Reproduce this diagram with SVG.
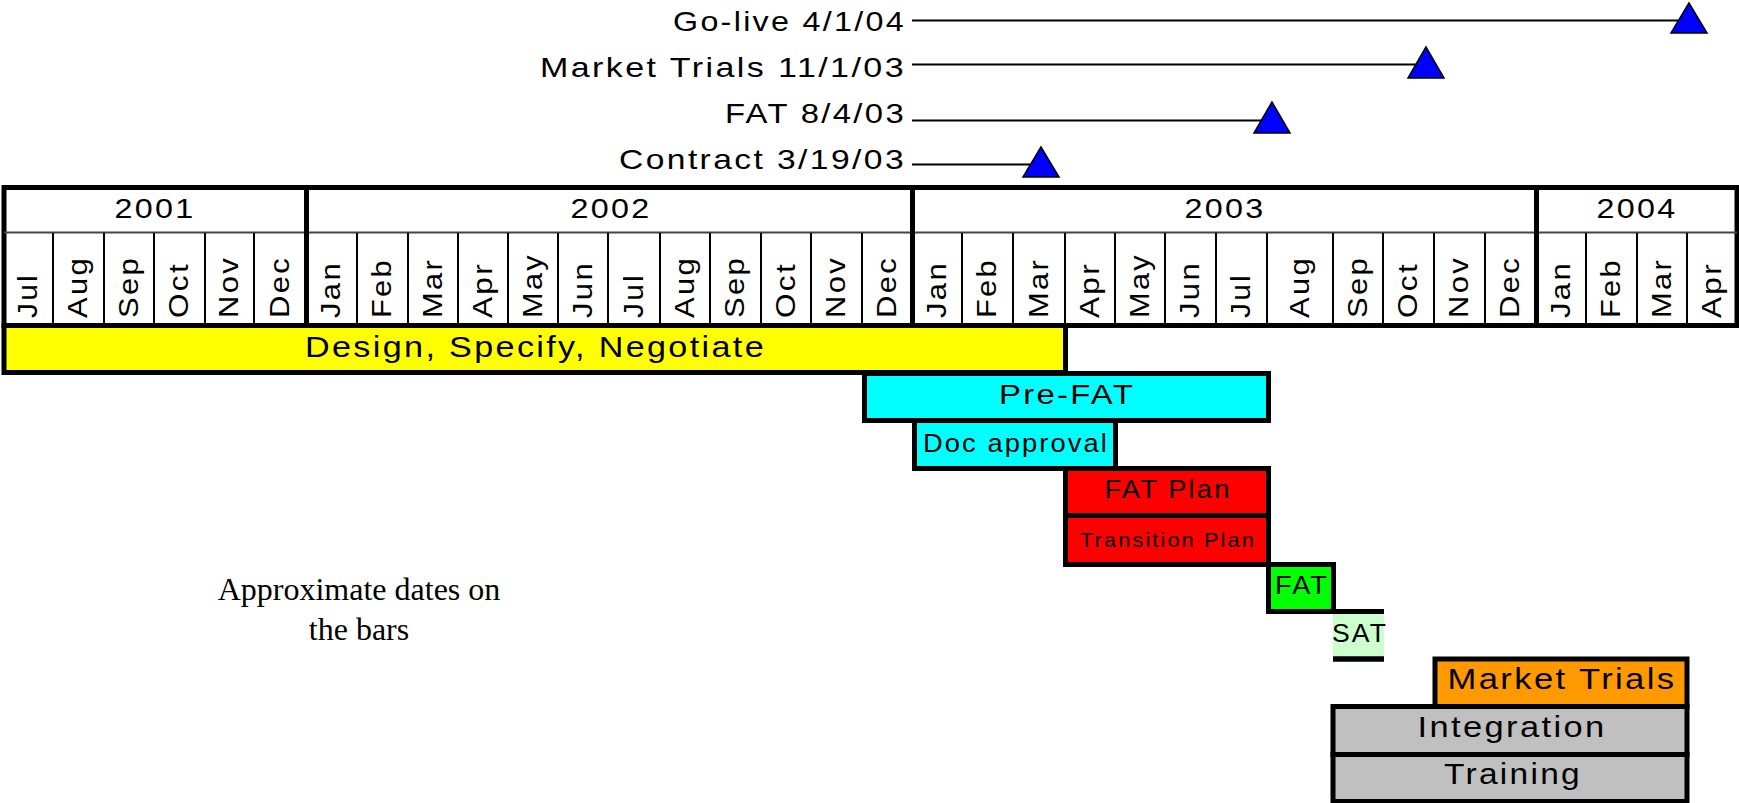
<svg xmlns="http://www.w3.org/2000/svg" width="1739" height="803" viewBox="0 0 1739 803">
<style>
text{font-family:"Liberation Sans",Arial,sans-serif;fill:#000;letter-spacing:2px}
.bar{stroke:#000;stroke-width:5}
.mon{font-size:27px;letter-spacing:3px}
.yr{font-size:28px;text-anchor:middle}
.ms{font-size:28px;text-anchor:end}
.bt{text-anchor:middle}
.tri{fill:#0000ff;stroke:#000;stroke-width:1.5;stroke-linejoin:miter}
.conn{stroke:#000;stroke-width:2.2;fill:none}
.div{stroke:#000;stroke-width:2}
.ydiv{stroke:#000;stroke-width:5}
.note{font-family:"Liberation Serif","Times New Roman",serif;font-size:32px;text-anchor:middle;letter-spacing:0}
</style>
<rect width="1739" height="803" fill="#fff"/>

<g id="connectors">
<line class="conn" x1="912" y1="20.5" x2="1689" y2="20.5"/>
<line class="conn" x1="912" y1="64.5" x2="1426" y2="64.5"/>
<line class="conn" x1="912" y1="120.5" x2="1272" y2="120.5"/>
<line class="conn" x1="912" y1="164.5" x2="1041" y2="164.5"/>
</g>

<g id="milestone-golive">
<text class="ms" x="906" y="31" textLength="233" lengthAdjust="spacingAndGlyphs">Go-live 4/1/04</text>
<polygon class="tri" points="1689,3 1671,33 1707,33"/>
</g>
<g id="milestone-market">
<text class="ms" x="906" y="77" textLength="366" lengthAdjust="spacingAndGlyphs">Market Trials 11/1/03</text>
<polygon class="tri" points="1426,47 1408,78 1444,78"/>
</g>
<g id="milestone-fat">
<text class="ms" x="906" y="123" textLength="181" lengthAdjust="spacingAndGlyphs">FAT 8/4/03</text>
<polygon class="tri" points="1272,102 1254,133 1290,133"/>
</g>
<g id="milestone-contract">
<text class="ms" x="906" y="169" textLength="287" lengthAdjust="spacingAndGlyphs">Contract 3/19/03</text>
<polygon class="tri" points="1041,147 1023,177 1059,177"/>
</g>

<g id="timeline-header">
<rect x="4" y="187.5" width="1733" height="138" fill="#fff" stroke="#000" stroke-width="5"/>
<line x1="4" y1="232.5" x2="1737" y2="232.5" stroke="#444" stroke-width="1.8"/>
<g class="div">
<line x1="53" y1="233" x2="53" y2="324"/><line x1="104" y1="233" x2="104" y2="324"/><line x1="154" y1="233" x2="154" y2="324"/><line x1="205" y1="233" x2="205" y2="324"/><line x1="254" y1="233" x2="254" y2="324"/>
<line x1="357" y1="233" x2="357" y2="324"/><line x1="408" y1="233" x2="408" y2="324"/><line x1="458" y1="233" x2="458" y2="324"/><line x1="508" y1="233" x2="508" y2="324"/><line x1="558" y1="233" x2="558" y2="324"/><line x1="608" y1="233" x2="608" y2="324"/><line x1="660" y1="233" x2="660" y2="324"/><line x1="710" y1="233" x2="710" y2="324"/><line x1="761" y1="233" x2="761" y2="324"/><line x1="811" y1="233" x2="811" y2="324"/><line x1="862" y1="233" x2="862" y2="324"/>
<line x1="962" y1="233" x2="962" y2="324"/><line x1="1013" y1="233" x2="1013" y2="324"/><line x1="1065" y1="233" x2="1065" y2="324"/><line x1="1115" y1="233" x2="1115" y2="324"/><line x1="1165" y1="233" x2="1165" y2="324"/><line x1="1216" y1="233" x2="1216" y2="324"/><line x1="1267" y1="233" x2="1267" y2="324"/><line x1="1333" y1="233" x2="1333" y2="324"/><line x1="1383" y1="233" x2="1383" y2="324"/><line x1="1434" y1="233" x2="1434" y2="324"/><line x1="1485" y1="233" x2="1485" y2="324"/>
<line x1="1586" y1="233" x2="1586" y2="324"/><line x1="1637" y1="233" x2="1637" y2="324"/><line x1="1687" y1="233" x2="1687" y2="324"/>
</g>
<line class="ydiv" x1="306.5" y1="188" x2="306.5" y2="325"/>
<line class="ydiv" x1="912.5" y1="188" x2="912.5" y2="325"/>
<line class="ydiv" x1="1536.5" y1="188" x2="1536.5" y2="325"/>
<text class="yr" x="155" y="218" textLength="81" lengthAdjust="spacingAndGlyphs">2001</text>
<text class="yr" x="611" y="218" textLength="81" lengthAdjust="spacingAndGlyphs">2002</text>
<text class="yr" x="1225" y="218" textLength="81" lengthAdjust="spacingAndGlyphs">2003</text>
<text class="yr" x="1637" y="218" textLength="81" lengthAdjust="spacingAndGlyphs">2004</text>
<g class="mon">
<text transform="translate(37,318) rotate(-90)" textLength="45" lengthAdjust="spacingAndGlyphs">Jul</text>
<text transform="translate(87,318) rotate(-90)" textLength="62" lengthAdjust="spacingAndGlyphs">Aug</text>
<text transform="translate(137.5,318) rotate(-90)" textLength="62" lengthAdjust="spacingAndGlyphs">Sep</text>
<text transform="translate(188,318) rotate(-90)" textLength="56" lengthAdjust="spacingAndGlyphs">Oct</text>
<text transform="translate(238,318) rotate(-90)" textLength="62" lengthAdjust="spacingAndGlyphs">Nov</text>
<text transform="translate(288.5,318) rotate(-90)" textLength="62" lengthAdjust="spacingAndGlyphs">Dec</text>
<text transform="translate(340,318) rotate(-90)" textLength="57" lengthAdjust="spacingAndGlyphs">Jan</text>
<text transform="translate(391,318) rotate(-90)" textLength="60" lengthAdjust="spacingAndGlyphs">Feb</text>
<text transform="translate(441.5,318) rotate(-90)" textLength="60" lengthAdjust="spacingAndGlyphs">Mar</text>
<text transform="translate(491.5,318) rotate(-90)" textLength="56" lengthAdjust="spacingAndGlyphs">Apr</text>
<text transform="translate(541.5,318) rotate(-90)" textLength="65" lengthAdjust="spacingAndGlyphs">May</text>
<text transform="translate(591.5,318) rotate(-90)" textLength="57" lengthAdjust="spacingAndGlyphs">Jun</text>
<text transform="translate(642.5,318) rotate(-90)" textLength="45" lengthAdjust="spacingAndGlyphs">Jul</text>
<text transform="translate(693.5,318) rotate(-90)" textLength="62" lengthAdjust="spacingAndGlyphs">Aug</text>
<text transform="translate(744,318) rotate(-90)" textLength="62" lengthAdjust="spacingAndGlyphs">Sep</text>
<text transform="translate(794.5,318) rotate(-90)" textLength="56" lengthAdjust="spacingAndGlyphs">Oct</text>
<text transform="translate(845,318) rotate(-90)" textLength="62" lengthAdjust="spacingAndGlyphs">Nov</text>
<text transform="translate(895.5,318) rotate(-90)" textLength="62" lengthAdjust="spacingAndGlyphs">Dec</text>
<text transform="translate(945.5,318) rotate(-90)" textLength="57" lengthAdjust="spacingAndGlyphs">Jan</text>
<text transform="translate(996,318) rotate(-90)" textLength="60" lengthAdjust="spacingAndGlyphs">Feb</text>
<text transform="translate(1047.5,318) rotate(-90)" textLength="60" lengthAdjust="spacingAndGlyphs">Mar</text>
<text transform="translate(1098.5,318) rotate(-90)" textLength="56" lengthAdjust="spacingAndGlyphs">Apr</text>
<text transform="translate(1148.5,318) rotate(-90)" textLength="65" lengthAdjust="spacingAndGlyphs">May</text>
<text transform="translate(1199,318) rotate(-90)" textLength="57" lengthAdjust="spacingAndGlyphs">Jun</text>
<text transform="translate(1250,318) rotate(-90)" textLength="45" lengthAdjust="spacingAndGlyphs">Jul</text>
<text transform="translate(1308.5,318) rotate(-90)" textLength="62" lengthAdjust="spacingAndGlyphs">Aug</text>
<text transform="translate(1366.5,318) rotate(-90)" textLength="62" lengthAdjust="spacingAndGlyphs">Sep</text>
<text transform="translate(1417,318) rotate(-90)" textLength="56" lengthAdjust="spacingAndGlyphs">Oct</text>
<text transform="translate(1468,318) rotate(-90)" textLength="62" lengthAdjust="spacingAndGlyphs">Nov</text>
<text transform="translate(1519,318) rotate(-90)" textLength="62" lengthAdjust="spacingAndGlyphs">Dec</text>
<text transform="translate(1569.5,318) rotate(-90)" textLength="57" lengthAdjust="spacingAndGlyphs">Jan</text>
<text transform="translate(1620,318) rotate(-90)" textLength="60" lengthAdjust="spacingAndGlyphs">Feb</text>
<text transform="translate(1670.5,318) rotate(-90)" textLength="60" lengthAdjust="spacingAndGlyphs">Mar</text>
<text transform="translate(1720.5,318) rotate(-90)" textLength="56" lengthAdjust="spacingAndGlyphs">Apr</text>
</g>
</g>

<g id="bar-design">
<rect class="bar" x="4" y="325.5" width="1061.5" height="47" fill="#ffff00"/>
<text class="bt" x="535.5" y="357" font-size="29" textLength="461" lengthAdjust="spacingAndGlyphs">Design, Specify, Negotiate</text>
</g>
<g id="bar-prefat">
<rect class="bar" x="864.5" y="373.5" width="404" height="47" fill="#00ffff"/>
<text class="bt" x="1067" y="404" font-size="28" textLength="136" lengthAdjust="spacingAndGlyphs">Pre-FAT</text>
</g>
<g id="bar-docapproval">
<rect class="bar" x="914.5" y="420.5" width="201" height="48" fill="#00ffff"/>
<text class="bt" x="1016" y="452" font-size="26" textLength="186" lengthAdjust="spacingAndGlyphs">Doc approval</text>
</g>
<g id="bar-fatplan">
<rect class="bar" x="1065.5" y="468.5" width="203" height="47" fill="#ff0000"/>
<text class="bt" x="1168" y="498" font-size="25" textLength="127" lengthAdjust="spacingAndGlyphs">FAT Plan</text>
</g>
<g id="bar-transition">
<rect class="bar" x="1065.5" y="515.5" width="203" height="49" fill="#ff0000"/>
<text class="bt" x="1168" y="547" font-size="21" textLength="176" lengthAdjust="spacingAndGlyphs">Transition Plan</text>
</g>
<g id="bar-fat">
<rect class="bar" x="1268.5" y="564.5" width="65" height="47" fill="#00ff00"/>
<text class="bt" x="1302" y="594" font-size="26" textLength="54" lengthAdjust="spacingAndGlyphs">FAT</text>
</g>
<g id="bar-sat">
<rect x="1333" y="613" width="51" height="44" fill="#ccffcc"/>
<line x1="1331" y1="611.5" x2="1384" y2="611.5" stroke="#000" stroke-width="5"/>
<line x1="1333" y1="659" x2="1384" y2="659" stroke="#000" stroke-width="5.5"/>
<text class="bt" x="1360" y="642" font-size="25" textLength="56" lengthAdjust="spacingAndGlyphs">SAT</text>
</g>
<g id="bar-markettrials">
<rect class="bar" x="1435" y="659" width="252" height="47.5" fill="#ff9900"/>
<text class="bt" x="1562" y="689" font-size="29" textLength="229" lengthAdjust="spacingAndGlyphs">Market Trials</text>
</g>
<g id="bar-integration">
<rect class="bar" x="1333" y="706.5" width="354" height="48" fill="#c0c0c0"/>
<text class="bt" x="1512" y="737" font-size="29" textLength="189" lengthAdjust="spacingAndGlyphs">Integration</text>
</g>
<g id="bar-training">
<rect class="bar" x="1333" y="754.5" width="354" height="47" fill="#c0c0c0"/>
<text class="bt" x="1513" y="784" font-size="29" textLength="138" lengthAdjust="spacingAndGlyphs">Training</text>
</g>

<g id="note">
<text class="note" x="359" y="600">Approximate dates on</text>
<text class="note" x="359" y="640">the bars</text>
</g>
</svg>
